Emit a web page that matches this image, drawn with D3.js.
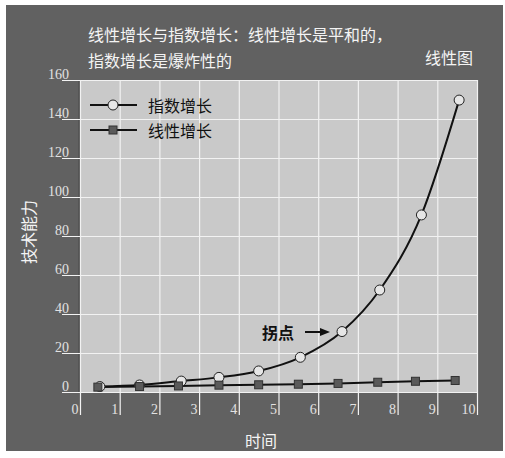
<!DOCTYPE html>
<html>
<head>
<meta charset="utf-8">
<script src="https://cdn.jsdelivr.net/npm/d3@7"></script>
<style>
  body { margin: 0; background: #fff; }
  svg { display: block; }
</style>
</head>
<body>
<div id="chart"></div>
<script>
// Data
const expTime = [0.5, 1.5, 2.55, 3.5, 4.5, 5.55, 6.6, 7.55, 8.6, 9.55];
const expValues = [2.8, 3.6, 5.6, 7.5, 10.8, 17.8, 31, 52.3, 90.8, 149.7];
const linTime = [0.45, 1.5, 2.48, 3.5, 4.5, 5.5, 6.5, 7.5, 8.45, 9.45];
const linValues = [2.5, 2.8, 3.1, 3.5, 3.7, 4.0, 4.4, 5.0, 5.5, 5.9];
const xTicks = [0, 1, 2, 3, 4, 5, 6, 7, 8, 9, 10];
const yTicks = [0, 20, 40, 60, 80, 100, 120, 140, 160];
const seriesNames = ["指数增长", "线性增长"];

const width = 505;
const height = 458;
const cjk = "'Noto Sans CJK SC', sans-serif";
const serif = "'Liberation Serif', 'DejaVu Serif', serif";

// Plot box
const plotLeft = 80, plotRight = 477, plotTop = 80, plotBottom = 392;

const x = d3.scaleLinear().domain([0, 10]).range([plotLeft, plotRight]);
const y = d3.scaleLinear().domain([0, 160]).range([plotBottom, plotTop]);

const svg = d3.select("#chart")
    .append("svg")
    .attr("width", width)
    .attr("height", height);

// Dark background
svg.append("rect")
    .attr("x", 6).attr("y", 5)
    .attr("width", 497).attr("height", 446)
    .attr("fill", "#616161");

// Plot area
svg.append("rect")
    .attr("x", plotLeft).attr("y", plotTop)
    .attr("width", plotRight - plotLeft).attr("height", plotBottom - plotTop)
    .attr("fill", "#c9c9c9");
svg.append("line")
    .attr("x1", plotLeft - 1).attr("x2", plotLeft - 1)
    .attr("y1", plotTop).attr("y2", plotBottom)
    .attr("stroke", "#555").attr("stroke-width", 2);

// Y axis: grid lines run across, labels sit above each line
const yAxis = svg.append("g")
    .attr("transform", "translate(62,0)")
    .call(d3.axisLeft(y).tickValues(yTicks).tickSize(-(plotRight - 62)).tickFormat(d3.format("d")));
yAxis.select(".domain").remove();
yAxis.selectAll(".tick line")
    .attr("stroke", "#f2f2f2")
    .attr("stroke-width", 1.2);
yAxis.selectAll(".tick text")
    .attr("x", 7)
    .attr("y", -2)
    .attr("dy", 0)
    .attr("text-anchor", "end")
    .attr("fill", "#e2e2e2")
    .style("font-family", serif)
    .style("font-size", "14px");

// X axis: grid lines run down past the plot, labels left of each line
const xAxis = svg.append("g")
    .attr("transform", "translate(0,415)")
    .call(d3.axisBottom(x).tickValues(xTicks).tickSize(-(415 - plotTop)).tickFormat(d3.format("d")));
xAxis.select(".domain").remove();
xAxis.selectAll(".tick line")
    .attr("stroke", "#f2f2f2")
    .attr("stroke-width", 1.2);
xAxis.selectAll(".tick text")
    .attr("x", -2)
    .attr("y", -1)
    .attr("dy", 0)
    .attr("text-anchor", "end")
    .attr("fill", "#e2e2e2")
    .style("font-family", serif)
    .style("font-size", "14px");

// Lines
const expData = expTime.map((t, i) => [t, expValues[i]]);
const linData = linTime.map((t, i) => [t, linValues[i]]);

svg.append("path")
    .datum(expData)
    .attr("fill", "none")
    .attr("stroke", "#111")
    .attr("stroke-width", 2)
    .attr("d", d3.line().x(d => x(d[0])).y(d => y(d[1])).curve(d3.curveMonotoneX));

svg.append("path")
    .datum(linData)
    .attr("fill", "none")
    .attr("stroke", "#111")
    .attr("stroke-width", 2)
    .attr("d", d3.line().x(d => x(d[0])).y(d => y(d[1])));

// Markers
svg.selectAll("circle.exp")
    .data(expData)
    .enter()
    .append("circle")
    .attr("class", "exp")
    .attr("cx", d => x(d[0]))
    .attr("cy", d => y(d[1]))
    .attr("r", 5)
    .attr("fill", "#e6e6e6")
    .attr("stroke", "#222")
    .attr("stroke-width", 1);

svg.selectAll("rect.lin")
    .data(linData)
    .enter()
    .append("rect")
    .attr("class", "lin")
    .attr("x", d => x(d[0]) - 4)
    .attr("y", d => y(d[1]) - 4)
    .attr("width", 8)
    .attr("height", 8)
    .attr("fill", "#5a5a5a")
    .attr("stroke", "#333")
    .attr("stroke-width", 1);

// Legend
const legend = svg.append("g");
[105, 130].forEach((ly, i) => {
    legend.append("line")
        .attr("x1", 90).attr("x2", 137)
        .attr("y1", ly).attr("y2", ly)
        .attr("stroke", "#111").attr("stroke-width", 2);
    if (i === 0) {
        legend.append("circle")
            .attr("cx", 113).attr("cy", ly).attr("r", 5)
            .attr("fill", "#e6e6e6").attr("stroke", "#222");
    } else {
        legend.append("rect")
            .attr("x", 109).attr("y", ly - 4).attr("width", 8).attr("height", 8)
            .attr("fill", "#5a5a5a").attr("stroke", "#333");
    }
    legend.append("text")
        .attr("x", 148).attr("y", ly)
        .attr("dominant-baseline", "central")
        .attr("fill", "#111")
        .style("font-family", cjk)
        .style("font-size", "16px")
        .text(seriesNames[i]);
});

// Annotation
svg.append("text")
    .attr("x", 262).attr("y", 332)
    .attr("dominant-baseline", "central")
    .attr("fill", "#111")
    .style("font-family", cjk)
    .style("font-size", "16px")
    .style("font-weight", "bold")
    .text("拐点");
svg.append("line")
    .attr("x1", 305).attr("x2", 321)
    .attr("y1", 332).attr("y2", 332)
    .attr("stroke", "#111").attr("stroke-width", 2);
svg.append("path")
    .attr("d", "M320,328 L330,332 L320,336 Z")
    .attr("fill", "#111");

// Titles
const titleStyle = sel => sel
    .attr("fill", "#f4f4f4")
    .attr("dominant-baseline", "central")
    .style("font-family", cjk)
    .style("font-size", "16px");

svg.append("text").attr("x", 88).attr("y", 34)
    .call(titleStyle).text("线性增长与指数增长：线性增长是平和的，");
svg.append("text").attr("x", 88).attr("y", 60)
    .call(titleStyle).text("指数增长是爆炸性的");
svg.append("text").attr("x", 473).attr("y", 57)
    .attr("text-anchor", "end")
    .call(titleStyle).text("线性图");

// Axis titles
svg.append("text")
    .attr("transform", "translate(28,232) rotate(-90)")
    .attr("text-anchor", "middle")
    .call(titleStyle).text("技术能力");
svg.append("text")
    .attr("x", 261).attr("y", 440)
    .attr("text-anchor", "middle")
    .call(titleStyle).text("时间");
</script>
</body>
</html>
